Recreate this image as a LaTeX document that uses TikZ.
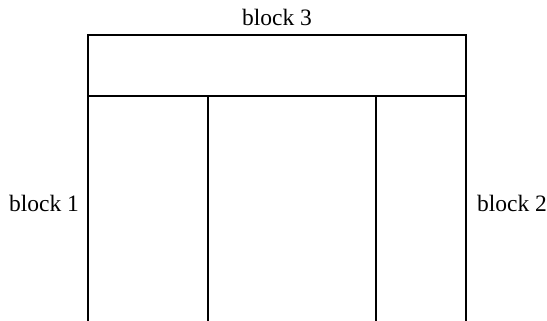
\documentclass[tikz,border=0pt]{standalone}
\usepackage{fontspec}
\setmainfont{Liberation Serif}
\begin{document}
\begin{tikzpicture}[x=1pt,y=1pt,
  lbl/.style={inner sep=0pt,anchor=base,font=\fontsize{23.5}{28}\selectfont},
  ln/.style={line width=1.2pt,black}]
\useasboundingbox (0,0) rectangle (547,321);
% top block
\coordinate (tl) at (88,286);
\coordinate (tr) at (466,286);
\coordinate (bl) at (88,225);
\coordinate (br) at (466,225);
\coordinate (m1) at (208,225);
\coordinate (m2) at (376,225);
\coordinate (b0) at (88,0);
\coordinate (b1) at (208,0);
\coordinate (b2) at (376,0);
\coordinate (b3) at (466,0);
\draw[ln] (tl) rectangle (br);
\draw[ln] (bl) -- (b0);
\draw[ln] (m1) -- (b1);
\draw[ln] (m2) -- (b2);
\draw[ln] (br) -- (b3);
\node[lbl] (t3) at (277,295) {block 3};
\node[lbl] (t1) at (44,109) {block 1};
\node[lbl] (t2) at (512,109) {block 2};
\end{tikzpicture}
\end{document}
